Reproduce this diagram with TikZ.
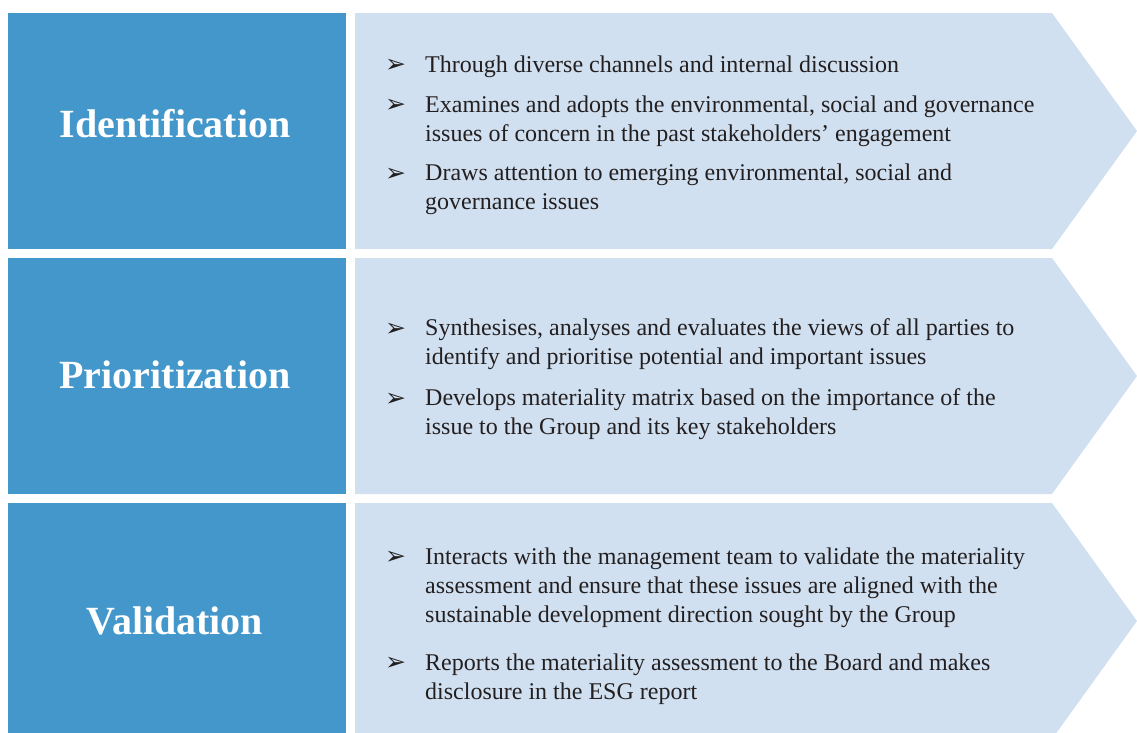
\documentclass[tikz,border=0pt]{standalone}
\usepackage{fontspec}
\setmainfont{Liberation Serif}
\newfontfamily\symfont{DejaVu Sans}
\definecolor{stepblue}{RGB}{67,151,203}
\definecolor{pointblue}{RGB}{208,224,240}
\definecolor{bodytext}{RGB}{35,31,32}
\tikzset{
  stagetitle/.style={anchor=base, inner sep=0pt, text=white, font=\fontsize{40}{48}\selectfont\bfseries},
  itemmark/.style={anchor=base west, inner sep=0pt, text=bodytext, font=\symfont\fontsize{25}{25}\selectfont},
  itemtext/.style={anchor=base west, inner sep=0pt, align=left, text=bodytext, font=\fontsize{24}{29}\selectfont},
}

\begin{document}
\begin{tikzpicture}[x=1pt,y=-1pt]
			\useasboundingbox (0,0) rectangle (1137,732);
			\clip (0,0) rectangle (1137,732);
			% Identification (text nodes sit on the baseline of their last line)
			\fill [stepblue] (8,13) rectangle (346,249);
			\fill [pointblue] (355,13) -- (1052,13) -- (1137,131) -- (1052,249) -- (355,249) -- cycle;
			\node [stagetitle] (ident) at (175,137) {Identification};
			\node [itemmark] (ident-m1) at (385,72) {➢};
			\node [itemtext] (ident-t1) at (425,72) {Through diverse channels and internal discussion};
			\node [itemmark] (ident-m2) at (385,112) {➢};
			\node [itemtext] (ident-t2) at (425,141) {Examines and adopts the environmental, social and governance\\issues of concern in the past stakeholders’ engagement};
			\node [itemmark] (ident-m3) at (385,181) {➢};
			\node [itemtext] (ident-t3) at (425,209) {Draws attention to emerging environmental, social and\\governance issues};
			% Prioritization
			\fill [stepblue] (8,258) rectangle (346,494);
			\fill [pointblue] (355,258) -- (1052,258) -- (1137,376) -- (1052,494) -- (355,494) -- cycle;
			\node [stagetitle] (prior) at (175,388) {Prioritization};
			\node [itemmark] (prior-m1) at (385,336) {➢};
			\node [itemtext] (prior-t1) at (425,364) {Synthesises, analyses and evaluates the views of all parties to\\identify and prioritise potential and important issues};
			\node [itemmark] (prior-m2) at (385,406) {➢};
			\node [itemtext] (prior-t2) at (425,434) {Develops materiality matrix based on the importance of the\\issue to the Group and its key stakeholders};
			% Validation
			\fill [stepblue] (8,503) rectangle (346,739);
			\fill [pointblue] (355,503) -- (1052,503) -- (1137,621) -- (1052,739) -- (355,739) -- cycle;
			\node [stagetitle] (valid) at (175,634) {Validation};
			\node [itemmark] (valid-m1) at (385,564) {➢};
			\node [itemtext] (valid-t1) at (425,622) {Interacts with the management team to validate the materiality\\assessment and ensure that these issues are aligned with the\\sustainable development direction sought by the Group};
			\node [itemmark] (valid-m2) at (385,670) {➢};
			\node [itemtext] (valid-t2) at (425,699) {Reports the materiality assessment to the Board and makes\\disclosure in the ESG report};
		\end{tikzpicture}
\end{document}
